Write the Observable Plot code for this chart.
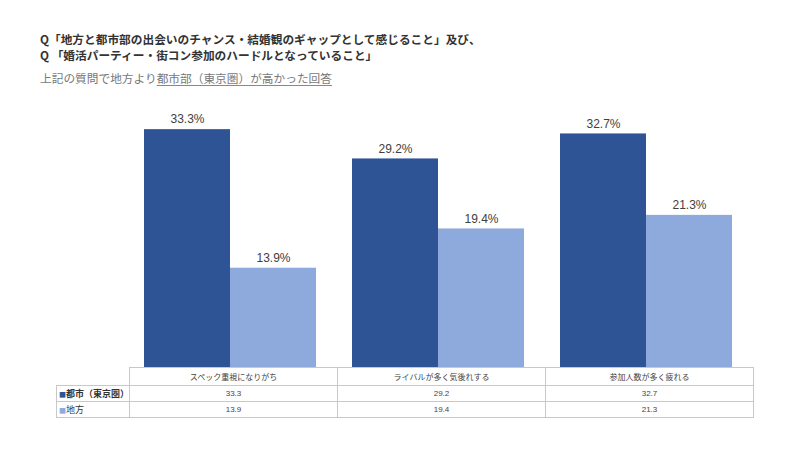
<!DOCTYPE html>
<html><head><meta charset="utf-8">
<script src="https://cdn.jsdelivr.net/npm/d3@7"></script>
<script src="https://cdn.jsdelivr.net/npm/@observablehq/plot@0.6"></script>
<style>
body{margin:0;background:#fff;width:800px;height:450px;overflow:hidden;position:relative;font-family:"Noto Sans CJK JP",sans-serif;}
.t{position:absolute;left:40px;font-size:11.7px;line-height:16px;white-space:nowrap;color:#333;font-weight:bold;}
.s{position:absolute;left:40px;top:70px;font-size:11.7px;line-height:16px;color:#777;white-space:nowrap;}
.s u{text-decoration-color:#888;text-underline-offset:2px;}
#chart{position:absolute;left:0;top:0;}
table{position:absolute;left:56px;top:367px;border-collapse:collapse;font-size:8px;color:#444;table-layout:fixed;}
td{border:1px solid #c8c8c8;text-align:center;padding:0;height:15px;line-height:14px;white-space:nowrap;overflow:hidden;}
tr.h td{height:17px;}
td.lab{text-align:left;padding-left:2px;font-size:9px;color:#333;}
td.blank{border:none;border-right:1px solid #c8c8c8;}
</style></head><body>
<div class="t" style="top:31px">Q「地方と都市部の出会いのチャンス・結婚観のギャップとして感じること」及び、</div>
<div class="t" style="top:47px">Q 「婚活パーティー・街コン参加のハードルとなっていること」</div>
<div class="s">上記の質問で地方より<u>都市部（東京圏）が高かった回答</u></div>
<div id="chart"></div>
<div id="tbl"></div>
<script>
const categories = ["スペック重視になりがち", "ライバルが多く気後れする", "参加人数が多く疲れる"];
const series = ["都市（東京圏）", "地方"];
const cityValues = [33.3, 29.2, 32.7];
const localValues = [13.9, 19.4, 21.3];
const colors = ["#2F5496", "#8EA9DB"];

const data = [];
categories.forEach((c, i) => {
  data.push({category: c, series: series[0], value: cityValues[i]});
  data.push({category: c, series: series[1], value: localValues[i]});
});

const chart = Plot.plot({
  width: 800,
  height: 450,
  marginLeft: 126,
  marginRight: 50,
  marginTop: 117,
  marginBottom: 83,
  fx: {domain: categories, padding: 0, axis: null},
  x: {domain: series, paddingInner: 0, paddingOuter: 0.2, axis: null},
  y: {domain: [0, 35], axis: null},
  color: {domain: series, range: colors},
  style: {fontFamily: "'Liberation Sans', Arial, sans-serif"},
  marks: [
    Plot.barY(data, {fx: "category", x: "series", y: "value", fill: "series"}),
    Plot.text(data, {fx: "category", x: "series", y: "value", text: d => d.value.toFixed(1) + "%", dy: -10, fontSize: 12, fill: "#404040"})
  ]
});
document.getElementById("chart").appendChild(chart);

// data table
const tbl = document.createElement("table");
const cg = document.createElement("colgroup");
[70, 208, 208, 208].forEach(w => { const c = document.createElement("col"); c.style.width = w + "px"; cg.appendChild(c); });
tbl.appendChild(cg);
const hr = document.createElement("tr"); hr.className = "h";
const b = document.createElement("td"); b.className = "blank"; hr.appendChild(b);
categories.forEach(c => { const td = document.createElement("td"); td.textContent = c; hr.appendChild(td); });
tbl.appendChild(hr);
[cityValues, localValues].forEach((vals, k) => {
  const tr = document.createElement("tr");
  const lab = document.createElement("td"); lab.className = "lab";
  const sq = document.createElement("span"); sq.textContent = "■"; sq.style.color = colors[k]; sq.style.fontSize = "7px";
  lab.appendChild(sq);
  const nm = document.createElement("span"); nm.textContent = series[k];
  if (k === 0) nm.style.fontWeight = "bold";
  lab.appendChild(nm);
  tr.appendChild(lab);
  vals.forEach(v => { const td = document.createElement("td"); td.textContent = v.toFixed(1); td.style.fontFamily = "'Liberation Sans', Arial, sans-serif"; tr.appendChild(td); });
  tbl.appendChild(tr);
});
document.getElementById("tbl").appendChild(tbl);
</script>
</body></html>
